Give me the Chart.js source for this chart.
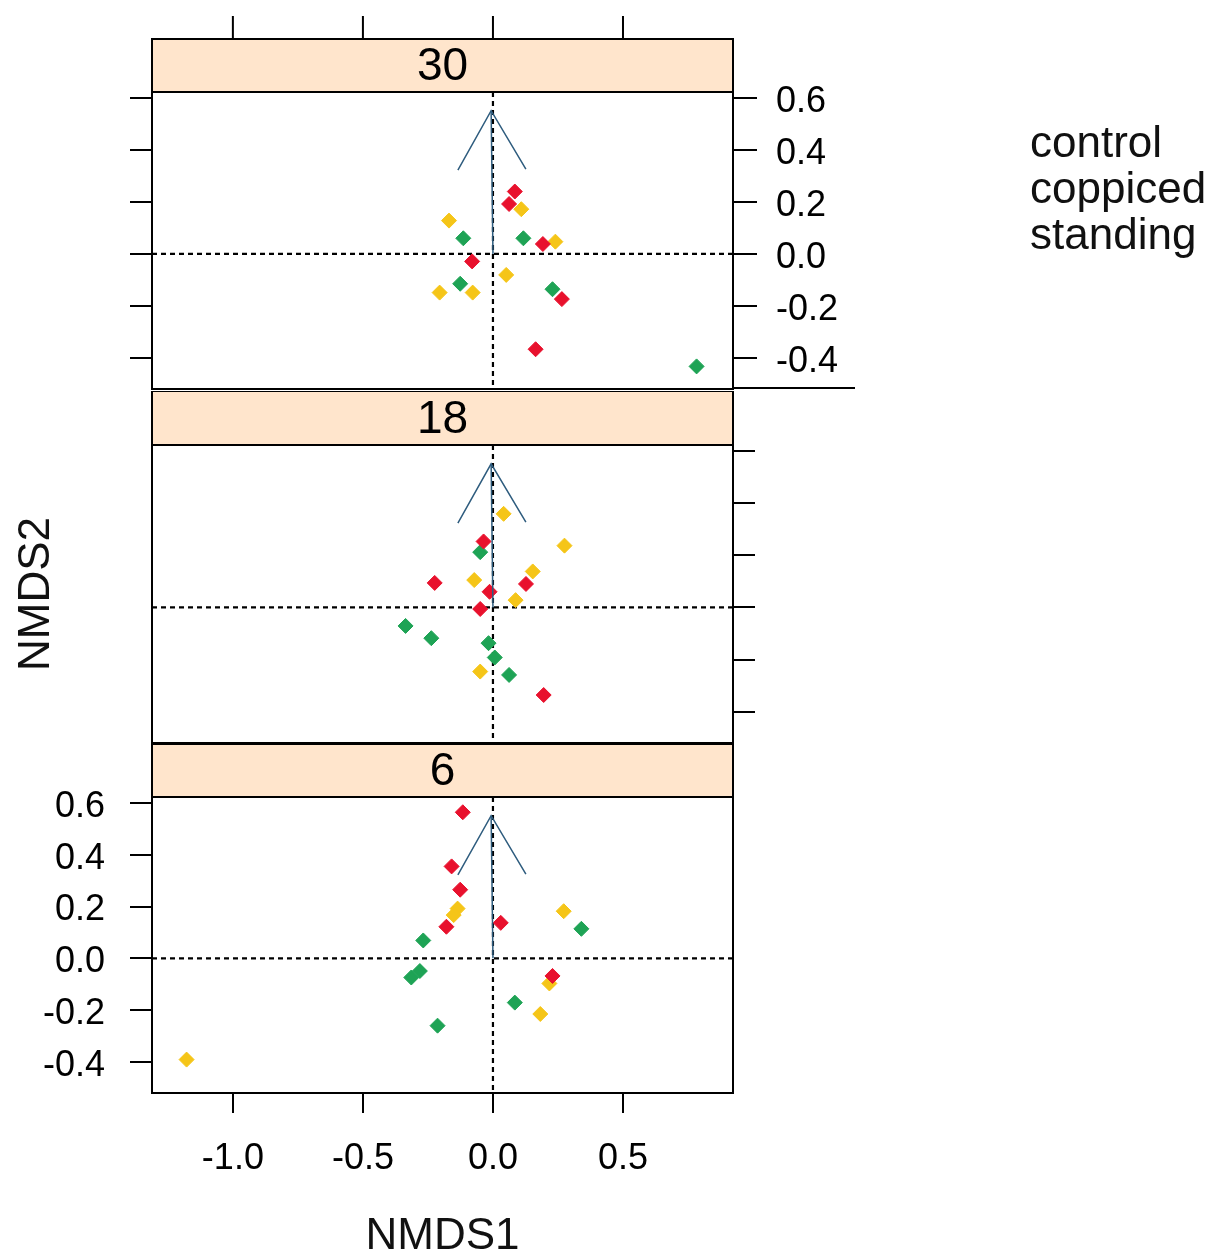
<!DOCTYPE html>
<html>
<head>
<meta charset="utf-8">
<title>NMDS by year</title>
<script src="https://cdn.jsdelivr.net/npm/chart.js@4.4.1/dist/chart.umd.min.js"></script>
<style>
body { margin: 0; background: #fff; }
.panel { position: absolute; left: 0; }
</style>
</head>
<body>
<canvas id="p30" class="panel" width="1232" height="391" style="top:0px"></canvas>
<canvas id="p18" class="panel" width="1232" height="353" style="top:391px"></canvas>
<canvas id="p6" class="panel" width="1232" height="513" style="top:744px"></canvas>
<script>
var groups = ['control', 'coppiced', 'standing'];
var groupColors = ['#E8112D', '#F5C518', '#1EA355'];
var arrowColor = '#2E5C7E';

var xTicks = [-1.0, -0.5, 0.0, 0.5];
var xTickLabels = ['-1.0', '-0.5', '0.0', '0.5'];
var yTicks = [-0.4, -0.2, 0.0, 0.2, 0.4, 0.6];
var yTickLabels = ['-0.4', '-0.2', '0.0', '0.2', '0.4', '0.6'];
var xRange = [-1.311, 0.923];
var yRange = [-0.52, 0.623];

// envfit arrow (same in every panel)
var arrowX = -0.007;
var arrowY = 0.551;

// panel "30"
var p30ControlX = [0.084, 0.062, 0.192, -0.080, 0.265, 0.164];
var p30ControlY = [0.240, 0.192, 0.038, -0.029, -0.174, -0.367];
var p30CoppicedX = [-0.169, 0.109, 0.240, 0.051, -0.205, -0.078];
var p30CoppicedY = [0.128, 0.172, 0.047, -0.081, -0.149, -0.149];
var p30StandingX = [-0.114, 0.117, -0.126, 0.229, 0.783];
var p30StandingY = [0.060, 0.060, -0.115, -0.136, -0.433];

// panel "18"
var p18ControlX = [-0.036, -0.224, -0.013, 0.127, -0.049, 0.195];
var p18ControlY = [0.253, 0.094, 0.060, 0.090, -0.006, -0.336];
var p18CoppicedX = [0.041, 0.275, 0.153, -0.072, 0.087, -0.049];
var p18CoppicedY = [0.359, 0.237, 0.138, 0.105, 0.028, -0.246];
var p18StandingX = [-0.049, -0.336, -0.237, -0.017, 0.007, 0.062];
var p18StandingY = [0.212, -0.071, -0.118, -0.137, -0.192, -0.259];

// panel "6"
var p6ControlX = [-0.116, -0.159, -0.126, -0.179, 0.030, 0.229];
var p6ControlY = [0.564, 0.355, 0.265, 0.122, 0.137, -0.068];
var p6CoppicedX = [-0.136, -0.151, 0.272, 0.217, 0.182, -1.178];
var p6CoppicedY = [0.192, 0.167, 0.182, -0.097, -0.215, -0.391];
var p6StandingX = [-0.268, 0.340, -0.281, -0.314, 0.084, -0.213];
var p6StandingY = [0.069, 0.114, -0.049, -0.074, -0.171, -0.260];

Chart.defaults.font.family = "'Liberation Sans', Arial, sans-serif";
Chart.defaults.color = '#000';

function pts(xs, ys) {
	var out = [];
	for (var i = 0; i < xs.length; i++) {
		out.push({x: xs[i], y: ys[i]});
	}
	return out;
}

function setYTicks(scale) {
	scale.ticks = yTicks.map(function(v) { return {value: v}; });
}
function setXTicks(scale) {
	scale.ticks = xTicks.map(function(v) { return {value: v}; });
}
function yLabel(value, index) { return yTickLabels[index]; }
function xLabel(value, index) { return xTickLabels[index]; }

function tickGrid(len) {
	return { drawOnChartArea: false, drawTicks: true, tickLength: len,
		color: '#000', tickColor: '#000', tickWidth: 2, lineWidth: 2 };
}
function fixW(w) {
	return function(s) { s.width = w; s.paddingTop = 0; s.paddingBottom = 0; };
}
function fixH(h) {
	return function(s) { s.height = h; s.paddingLeft = 0; s.paddingRight = 0; };
}

function panelDatasets(sets) {
	var ds = [{
		label: 'arrow',
		data: [{x: 0, y: 0}, {x: arrowX, y: arrowY}],
		showLine: true,
		borderColor: arrowColor,
		borderWidth: 1.5,
		pointRadius: 0,
		pointHoverRadius: 0
	}];
	for (var g = 0; g < groups.length; g++) {
		ds.push({
			label: groups[g],
			data: pts(sets[g][0], sets[g][1]),
			pointStyle: 'rectRot',
			pointRadius: 7.5,
			pointHoverRadius: 7.5,
			backgroundColor: groupColors[g],
			borderColor: groupColors[g],
			borderWidth: 1,
			showLine: false
		});
	}
	return ds;
}

//strips, zero lines, arrow head, box, legend
var latticePlugin = {
	id: 'lattice',
	beforeDatasetsDraw: function(chart) {
		var ctx = chart.ctx, a = chart.chartArea;
		var x0 = chart.scales.x.getPixelForValue(0);
		var y0 = chart.scales.y.getPixelForValue(0);
		ctx.save();
		ctx.strokeStyle = '#000';
		ctx.lineWidth = 2.2;
		ctx.setLineDash([5, 4]);
		ctx.beginPath();
		ctx.moveTo(a.left, y0); ctx.lineTo(a.right, y0);
		ctx.moveTo(x0, a.top); ctx.lineTo(x0, a.bottom);
		ctx.stroke();
		ctx.restore();
	},
	afterDatasetsDraw: function(chart) {
		var ctx = chart.ctx;
		var xs = chart.scales.x, ys = chart.scales.y;
		var ox = xs.getPixelForValue(0), oy = ys.getPixelForValue(0);
		var tx = xs.getPixelForValue(arrowX), ty = ys.getPixelForValue(arrowY);
		var ang = Math.atan2(ty - oy, tx - ox);
		var len = 68, spread = Math.PI / 6;
		ctx.save();
		ctx.strokeStyle = arrowColor;
		ctx.lineWidth = 1.5;
		ctx.beginPath();
		ctx.moveTo(tx - len * Math.cos(ang - spread), ty - len * Math.sin(ang - spread));
		ctx.lineTo(tx, ty);
		ctx.lineTo(tx - len * Math.cos(ang + spread), ty - len * Math.sin(ang + spread));
		ctx.stroke();
		ctx.restore();
	},
	afterDraw: function(chart, args, opts) {
		var ctx = chart.ctx, a = chart.chartArea;
		var sh = opts.stripH;
		ctx.save();
		// strip
		ctx.fillStyle = '#FFE5CC';
		ctx.fillRect(a.left, a.top - sh, a.right - a.left, sh);
		ctx.strokeStyle = '#000';
		ctx.lineWidth = 2;
		ctx.strokeRect(a.left, a.top - sh, a.right - a.left, sh);
		ctx.strokeRect(a.left, a.top, a.right - a.left, a.bottom - a.top);
		ctx.fillStyle = '#000';
		ctx.font = "46px 'Liberation Sans', Arial, sans-serif";
		ctx.textAlign = 'center';
		ctx.textBaseline = 'middle';
		ctx.fillText(opts.strip, (a.left + a.right) / 2, a.top - sh / 2 + 2);

		if (opts.topTicks) {
			ctx.beginPath();
			for (var i = 0; i < xTicks.length; i++) {
				var px = chart.scales.x.getPixelForValue(xTicks[i]);
				ctx.moveTo(px, a.top - sh);
				ctx.lineTo(px, a.top - sh - 23);
			}
			ctx.stroke();
		}
		if (opts.keyLine) {
			ctx.beginPath();
			ctx.moveTo(a.right, a.bottom - 1);
			ctx.lineTo(a.right + 122, a.bottom - 1);
			ctx.stroke();
		}
		if (opts.legend) {
			ctx.font = "44px 'Liberation Sans', Arial, sans-serif";
			ctx.textAlign = 'left';
			ctx.textBaseline = 'alphabetic';
			ctx.fillStyle = '#111';
			for (var g = 0; g < groups.length; g++) {
				ctx.fillText(groups[g], 1030, 157 + g * 46);
			}
		}
		ctx.restore();
	}
};

function baseOptions(pad, scales, lattice) {
	return {
		responsive: false,
		animation: false,
		devicePixelRatio: 1,
		layout: { padding: pad, autoPadding: false },
		plugins: { legend: { display: false }, tooltip: { enabled: false }, lattice: lattice },
		scales: scales
	};
}

// top panel: 30
new Chart(document.getElementById('p30'), {
	type: 'scatter',
	data: { datasets: panelDatasets([[p30ControlX, p30ControlY], [p30CoppicedX, p30CoppicedY], [p30StandingX, p30StandingY]]) },
	options: baseOptions({left: 130, right: 379, top: 92, bottom: 2}, {
		x: { type: 'linear', display: false, min: xRange[0], max: xRange[1], afterBuildTicks: setXTicks },
		y: { type: 'linear', position: 'left', min: yRange[0], max: yRange[1], afterBuildTicks: setYTicks,
			afterFit: fixW(22), ticks: { display: false }, grid: tickGrid(22), border: { display: false } },
		yr: { type: 'linear', position: 'right', min: yRange[0], max: yRange[1], afterBuildTicks: setYTicks,
			afterFit: fixW(120), ticks: { font: { size: 36 }, padding: 19, labelOffset: 4, color: '#000', callback: yLabel },
			grid: tickGrid(24), border: { display: false } }
	}, { strip: '30', stripH: 53, topTicks: true, legend: true, keyLine: true }),
	plugins: [latticePlugin]
});

// middle panel: 18
new Chart(document.getElementById('p18'), {
	type: 'scatter',
	data: { datasets: panelDatasets([[p18ControlX, p18ControlY], [p18CoppicedX, p18CoppicedY], [p18StandingX, p18StandingY]]) },
	options: baseOptions({left: 0, right: 477, top: 54, bottom: 1}, {
		x: { type: 'linear', display: false, min: xRange[0], max: xRange[1], afterBuildTicks: setXTicks },
		y: { type: 'linear', position: 'left', min: yRange[0], max: yRange[1], afterBuildTicks: setYTicks,
			afterFit: fixW(152), ticks: { display: false }, grid: { display: false }, border: { display: false },
			title: { display: true, text: 'NMDS2', font: { size: 44 }, color: '#111', padding: { top: 10, bottom: 0 } } },
		yr: { type: 'linear', position: 'right', min: yRange[0], max: yRange[1], afterBuildTicks: setYTicks,
			afterFit: fixW(22), ticks: { display: false }, grid: tickGrid(22), border: { display: false } }
	}, { strip: '18', stripH: 54 }),
	plugins: [latticePlugin]
});

// bottom panel: 6
new Chart(document.getElementById('p6'), {
	type: 'scatter',
	data: { datasets: panelDatasets([[p6ControlX, p6ControlY], [p6CoppicedX, p6CoppicedY], [p6StandingX, p6StandingY]]) },
	options: baseOptions({left: 0, right: 499, top: 53, bottom: 0}, {
		x: { type: 'linear', position: 'bottom', min: xRange[0], max: xRange[1], afterBuildTicks: setXTicks,
			afterFit: fixH(164), ticks: { font: { size: 36 }, padding: 24, color: '#000', callback: xLabel },
			grid: tickGrid(20), border: { display: false },
			title: { display: true, text: 'NMDS1', font: { size: 44, lineHeight: 0.9 }, color: '#111', padding: { top: 0, bottom: 0 } } },
		y: { type: 'linear', position: 'left', min: yRange[0], max: yRange[1], afterBuildTicks: setYTicks,
			afterFit: fixW(152), ticks: { font: { size: 36 }, padding: 25, labelOffset: 4, color: '#000', callback: yLabel },
			grid: tickGrid(22), border: { display: false } }
	}, { strip: '6', stripH: 53 }),
	plugins: [latticePlugin]
});
</script>
</body>
</html>
